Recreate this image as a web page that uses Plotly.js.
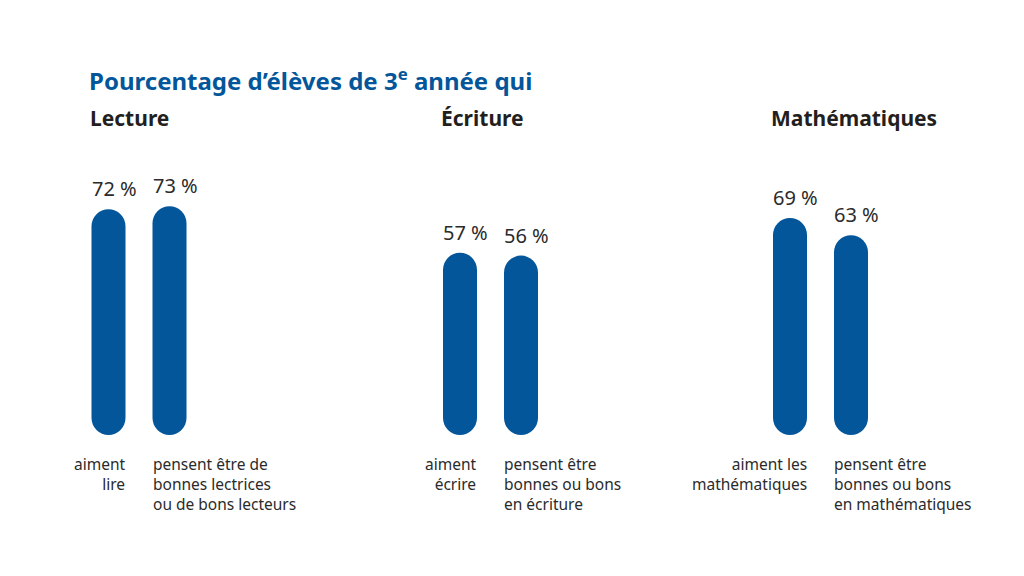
<!DOCTYPE html>
<html>
<head>
<meta charset="utf-8">
<script src="https://cdn.plot.ly/plotly-3.0.1.min.js"></script>
<style>html,body{margin:0;padding:0;background:#fff;}#chart{width:1024px;height:576px;}</style>
</head>
<body>
<div id="chart"></div>
<script>
// ---- Data ----
const groupTitles = ['Lecture', 'Écriture', 'Mathématiques'];
const lectureLabels = ['aiment<br>lire', 'pensent être de<br>bonnes lectrices<br>ou de bons lecteurs'];
const lectureValues = [72, 73];
const ecritureLabels = ['aiment<br>écrire', 'pensent être<br>bonnes ou bons<br>en écriture'];
const ecritureValues = [57, 56];
const mathLabels = ['aiment les<br>mathématiques', 'pensent être<br>bonnes ou bons<br>en mathématiques'];
const mathValues = [69, 63];
const chartTitle = 'Pourcentage d’élèves de 3<sup>e</sup> année qui';

// ---- Layout / style ----
const W = 1024, H = 576;
const FONT = '"Noto Sans", "Open Sans", sans-serif';
const BLUE = '#03569a';
const TEXT = '#2b2b2b';
const plotTop = 150, plotBottom = 435;
const plotH = plotBottom - plotTop;
const SCALE = 2.9;           // px per percentage point
const BAR_W = 34;            // bar width in px
const RADIUS = BAR_W / 2;
const cap = RADIUS / SCALE;  // bottom rounded cap length in data units
const yRange = [-cap, plotH / SCALE - cap];
const domainsPx = [[78, 200], [429.5, 551.5], [759.5, 881.5]];

const groups = [
  {labels: lectureLabels, values: lectureValues},
  {labels: ecritureLabels, values: ecritureValues},
  {labels: mathLabels, values: mathValues}
];

const data = [];
const annotations = [];
const layout = {
  width: W, height: H,
  paper_bgcolor: '#fff', plot_bgcolor: '#fff',
  margin: {l: 0, r: 0, t: plotTop, b: H - plotBottom, pad: 0},
  showlegend: false,
  barmode: 'relative',
  bargap: 1 - BAR_W / 61,
  font: {family: FONT, color: TEXT},
  title: {
    text: chartTitle,
    font: {family: FONT, size: 24, color: BLUE, weight: 'bold'},
    xref: 'container', yref: 'container',
    x: 89 / W, xanchor: 'left',
    y: 1 - 82 / H, yanchor: 'middle'
  },
  yaxis: {range: yRange, visible: false, fixedrange: true},
  hovermode: false
};

groups.forEach((g, i) => {
  const xa = i === 0 ? 'x' : 'x' + (i + 1);
  const xaKey = i === 0 ? 'xaxis' : 'xaxis' + (i + 1);
  layout[xaKey] = {
    domain: [domainsPx[i][0] / W, domainsPx[i][1] / W],
    anchor: 'y', visible: false, type: 'category',
    range: [-0.5, 1.5], fixedrange: true
  };
  data.push({
    type: 'bar', x: g.labels, y: g.values, xaxis: xa, yaxis: 'y',
    marker: {color: BLUE, cornerradius: RADIUS},
    hoverinfo: 'skip', cliponaxis: false
  });
  data.push({
    type: 'bar', x: g.labels, y: g.values.map(() => -cap), xaxis: xa, yaxis: 'y',
    marker: {color: BLUE, cornerradius: RADIUS},
    hoverinfo: 'skip', cliponaxis: false
  });
  // value labels
  g.values.forEach((v, j) => {
    annotations.push({
      text: v + ' %', xref: xa, yref: 'y',
      x: g.labels[j], xanchor: 'left', xshift: -RADIUS - 2,
      y: v, yanchor: 'bottom', yshift: 5,
      showarrow: false,
      font: {family: FONT, size: 20, color: TEXT}
    });
  });
  // group header
  annotations.push({
    text: groupTitles[i], xref: xa, yref: 'paper',
    x: g.labels[0], xanchor: 'left', xshift: -RADIUS - 4,
    y: (plotBottom - 118) / plotH, yanchor: 'middle',
    showarrow: false,
    font: {family: FONT, size: 21, color: '#231f20', weight: 'bold'}
  });
  // category labels
  annotations.push({
    text: g.labels[0], xref: xa, yref: 'paper',
    x: g.labels[0], xanchor: 'right', xshift: RADIUS + 2, align: 'right',
    y: 0, yanchor: 'top', yshift: -16,
    showarrow: false, font: {family: FONT, size: 15.5, color: TEXT}
  });
  annotations.push({
    text: g.labels[1], xref: xa, yref: 'paper',
    x: g.labels[1], xanchor: 'left', xshift: -RADIUS - 2, align: 'left',
    y: 0, yanchor: 'top', yshift: -16,
    showarrow: false, font: {family: FONT, size: 15.5, color: TEXT}
  });
});
layout.annotations = annotations;

Plotly.newPlot('chart', data, layout, {staticPlot: true, displayModeBar: false});
</script>
</body>
</html>
